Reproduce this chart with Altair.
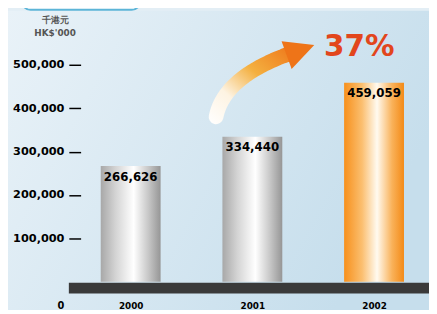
import altair as alt
import pandas as pd
import numpy as np

# ---- data ----
years = ["2000", "2001", "2002"]
values = [266626, 334440, 459059]
value_labels = ["266,626", "334,440", "459,059"]
y_ticks = [100000, 200000, 300000, 400000, 500000]
unit_lines = ["千港元", "HK$'000"]
growth_label = "37%"
zero_label = "0"

W, H = 367, 265
FONT = "DejaVu Sans"

df = pd.DataFrame({"year": years, "value": values, "label": value_labels})
one = pd.DataFrame({"k": [0]})

xs = alt.Scale(type="point", domain=years, range=[63, 311], padding=0)
ys = alt.Scale(domain=[0, 600000])

silver = {"gradient": "linear", "x1": 0, "y1": 0, "x2": 1, "y2": 0,
          "stops": [{"offset": 0, "color": "#a8a8a8"},
                    {"offset": 0.25, "color": "#d4d4d4"},
                    {"offset": 0.55, "color": "#ffffff"},
                    {"offset": 0.8, "color": "#c6c6c6"},
                    {"offset": 1, "color": "#969696"}]}
orange = {"gradient": "linear", "x1": 0, "y1": 0, "x2": 1, "y2": 0,
          "stops": [{"offset": 0, "color": "#f7901c"},
                    {"offset": 0.3, "color": "#fbbf70"},
                    {"offset": 0.55, "color": "#fffaf0"},
                    {"offset": 0.8, "color": "#f9b25a"},
                    {"offset": 1, "color": "#f38a17"}]}
bg_grad = {"gradient": "linear", "x1": 0, "y1": 0, "x2": 1, "y2": 0.4,
           "stops": [{"offset": 0, "color": "#e9f2f8"},
                     {"offset": 1, "color": "#c6deec"}]}
arrow_grad = {"gradient": "linear", "x1": 0, "y1": 1, "x2": 1, "y2": 0,
              "stops": [{"offset": 0, "color": "#ffffff"},
                        {"offset": 0.3, "color": "#fdf3e2"},
                        {"offset": 0.6, "color": "#f4b040"},
                        {"offset": 1, "color": "#ee7418"}]}

# background
bg = alt.Chart(one).mark_rect(color=bg_grad).encode(
    x=alt.value(-62), x2=alt.value(W), y=alt.value(-11), y2=alt.value(H + 40))

# top-left rounded box
box = alt.Chart(one).mark_rect(fill="white", stroke="#5db5d8", strokeWidth=2,
                               cornerRadius=9).encode(
    x=alt.value(-48), x2=alt.value(73), y=alt.value(-40), y2=alt.value(-12))

units = alt.Chart(pd.DataFrame({"t": unit_lines, "i": [0, 1]})).mark_text(
    font=FONT, fontWeight="bold", fontSize=9, color="#555555", align="center",
    baseline="middle").encode(
    text="t:N", x=alt.value(-14),
    y=alt.Y("i:Q", scale=alt.Scale(domain=[0, 1], range=[-2, 12]), axis=None))

# dark base band
band = alt.Chart(one).mark_rect(color="#3a3a3a").encode(
    x=alt.value(0), x2=alt.value(W), y=alt.value(266), y2=alt.value(277))

zero = alt.Chart(one).mark_text(font=FONT, fontWeight="bold", fontSize=10,
                                color="black", align="center", baseline="middle",
                                text=zero_label).encode(
    x=alt.value(-8), y=alt.value(290))

base = alt.Chart(df)
bars_silver = base.transform_filter(alt.datum.year != "2002").mark_bar(
    size=61, color=silver).encode(
    x=alt.X("year:O", scale=xs,
            axis=alt.Axis(title=None, domain=False, ticks=False, labelAngle=0,
                          labelFont=FONT, labelFontWeight="bold", labelFontSize=9,
                          labelColor="black", labelPadding=20, zindex=1)),
    y=alt.Y("value:Q", scale=ys,
            axis=alt.Axis(title=None, values=y_ticks, format=",d", domain=False,
                          grid=False, offset=-12, tickSize=12, tickWidth=1.5,
                          tickColor="black", labelPadding=5, labelFont=FONT,
                          labelFontWeight="bold", labelFontSize=11.5,
                          labelColor="black", zindex=1)))
bars_orange = base.transform_filter(alt.datum.year == "2002").mark_bar(
    size=61, color=orange).encode(
    x=alt.X("year:O", scale=xs, axis=None),
    y=alt.Y("value:Q", scale=ys, axis=None))
labels = base.mark_text(font=FONT, fontWeight="bold", fontSize=12, color="black",
                        baseline="middle", dy=11).encode(
    x=alt.X("year:O", scale=xs, axis=None),
    y=alt.Y("value:Q", scale=ys, axis=None),
    text="label:N")

# growth arrow (decoration), centre line as a quadratic curve in pixel space
ox, oy = 70, 19
p0, p1, p2 = np.array([220, 116]), np.array([228, 76]), np.array([294, 52])
tt = np.linspace(0, 1, 25)
pts = [(1 - t) ** 2 * p0 + 2 * (1 - t) * t * p1 + t ** 2 * p2 for t in tt]
arrow_df = pd.DataFrame({"px": [p[0] - ox for p in pts], "py": [p[1] - oy for p in pts],
                         "o": list(range(len(pts)))})
trail = alt.Chart(arrow_df).mark_trail(color=arrow_grad, fill=arrow_grad).encode(
    x=alt.X("px:Q", scale=None, axis=None),
    y=alt.Y("py:Q", scale=None, axis=None),
    order="o:Q", size=alt.value(15))
head = alt.Chart(one).mark_point(shape="M-1,-1L1,0L-1,1Z", filled=True, opacity=1,
                                 color="#ee7418", size=900, angle=340).encode(
    x=alt.value(306 - ox), y=alt.value(48 - oy))
growth = alt.Chart(one).mark_text(font=FONT, fontWeight="bold", fontSize=30,
                                  color="#e2461c", align="center", baseline="middle",
                                  text=growth_label).encode(
    x=alt.value(366 - ox), y=alt.value(45 - oy))

chart = alt.layer(bg, box, units, band, zero, bars_silver, bars_orange, labels,
                  trail, head, growth).resolve_scale(
    x="independent", y="independent").properties(
    width=W, height=H, autosize=alt.AutoSizeParams(type="none"),
    padding={"left": 62, "top": 11, "right": 0, "bottom": 26},
    background="#e3eef5").configure_view(stroke=None)

chart.save("out.html", embed_options={"renderer": "svg", "actions": False})
